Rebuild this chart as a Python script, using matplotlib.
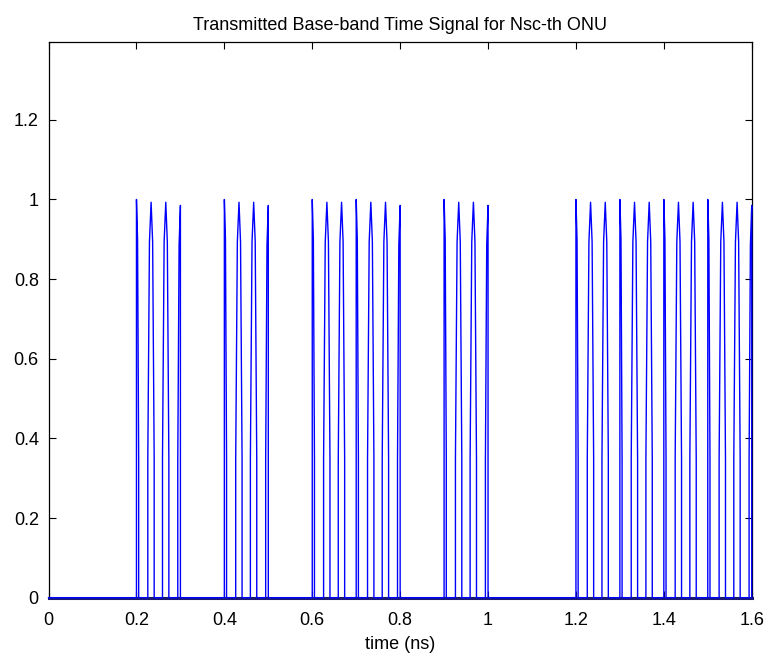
import numpy as np
import matplotlib
matplotlib.use("Agg")
from matplotlib import pyplot as plt

plt.rcParams['font.family'] = ['Liberation Sans', 'DejaVu Sans']

# peak times of the carrier spikes (ns), one group per "1" bit burst
spike_t = [0.2, 0.2333, 0.2667, 0.3,
           0.4, 0.4333, 0.4667, 0.5,
           0.6, 0.6333, 0.6667, 0.7, 0.7333, 0.7667, 0.8,
           0.9, 0.9333, 0.9667, 1.0,
           1.2, 1.2333, 1.2667, 1.3, 1.3333, 1.3667, 1.4, 1.4333, 1.4667,
           1.5, 1.5333, 1.5667, 1.6]
spike_peak = [1.0, 0.993, 0.993, 0.985,
              1.0, 0.993, 0.993, 0.985,
              1.0, 0.993, 0.993, 1.0, 0.993, 0.993, 0.985,
              1.0, 0.993, 0.993, 0.985,
              1.0, 0.993, 0.993, 1.0, 0.993, 0.993, 1.0, 0.993, 0.993,
              1.0, 0.993, 0.993, 0.985]
# rise / fall widths of each spike at the base (ns)
spike_rise = [0.0, 0.0075, 0.0075, 0.006,
              0.0, 0.0075, 0.0075, 0.006,
              0.0, 0.0075, 0.0075, 0.0, 0.0075, 0.0075, 0.006,
              0.0, 0.0075, 0.0075, 0.006,
              0.0, 0.0075, 0.0075, 0.0, 0.0075, 0.0075, 0.0, 0.0075, 0.0075,
              0.0, 0.0075, 0.0075, 0.006]
spike_fall = [0.005, 0.007, 0.007, 0.0,
              0.005, 0.007, 0.007, 0.0,
              0.005, 0.007, 0.007, 0.005, 0.007, 0.007, 0.0,
              0.005, 0.007, 0.007, 0.0,
              0.005, 0.007, 0.007, 0.005, 0.007, 0.007, 0.005, 0.007, 0.007,
              0.005, 0.007, 0.007, 0.0]
t_start, t_end = 0.0, 1.6

# time trace: flat at 0, each spike has nearly vertical legs with a kink near the top
t = [t_start]
y = [0.0]
for tp, h, wl, wr in zip(spike_t, spike_peak, spike_rise, spike_fall):
    t += [tp - wl, tp - wl, tp - wl / 2, tp, tp + wr / 2, tp + wr, tp + wr]
    y += [0.0, 0.35 * h, 0.9 * h, h, 0.9 * h, 0.35 * h, 0.0]
t.append(t_end)
y.append(0.0)

fig = plt.figure(figsize=(7.71, 6.59), dpi=100)
ax = fig.add_axes([0.063, 0.093, 0.912, 0.843])
ax.plot(t, y, color=(0, 0, 1), lw=1.0, clip_on=False, zorder=3)

ax.set_xlim(0, 1.6)
ax.set_ylim(0, 1.395)
ax.set_xticks(np.arange(0, 1.61, 0.2))
ax.set_xticklabels(['0', '0.2', '0.4', '0.6', '0.8', '1', '1.2', '1.4', '1.6'])
ax.set_yticks(np.arange(0, 1.21, 0.2))
ax.set_yticklabels(['0', '0.2', '0.4', '0.6', '0.8', '1', '1.2'])
ax.tick_params(direction='in', top=True, right=True, length=5, width=0.8,
               labelsize=13)
ax.tick_params(axis='x', pad=10)
ax.tick_params(axis='y', pad=7)
for s in ax.spines.values():
    s.set_linewidth(0.9)
ax.spines['bottom'].set_color((0.1, 0.1, 0.45))
ax.spines['bottom'].set_linewidth(2.2)
ax.set_xlabel("time (ns)", fontsize=13, labelpad=5)
ax.set_title("Transmitted Base-band Time Signal for Nsc-th ONU", fontsize=13, pad=9)

plt.savefig("out.png", dpi=100)
